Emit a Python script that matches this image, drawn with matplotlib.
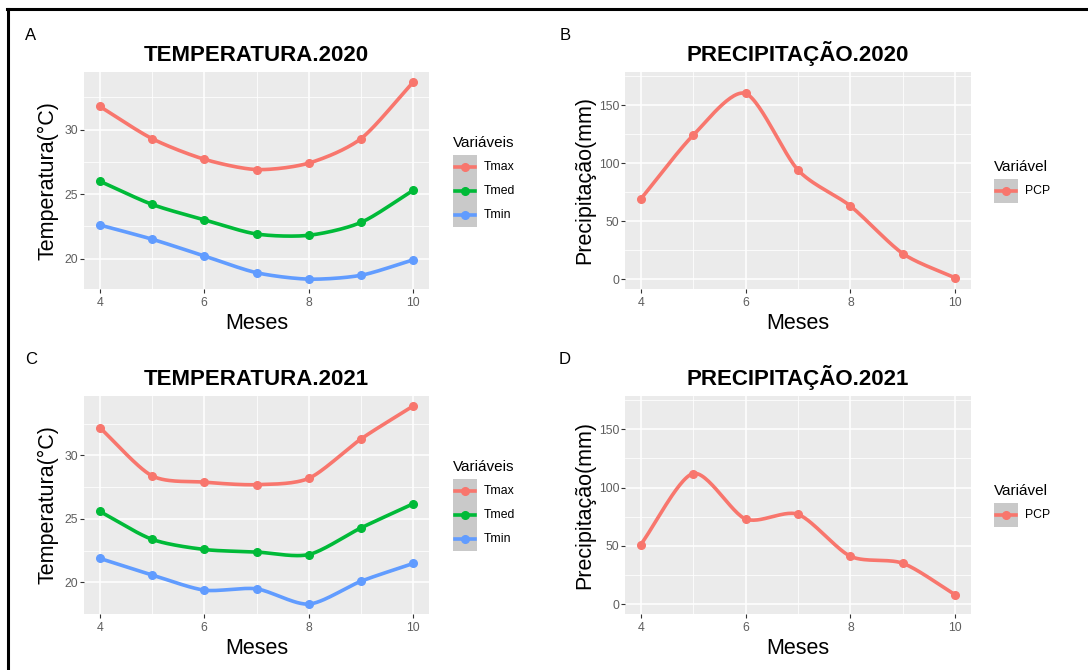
import matplotlib
matplotlib.use("Agg")
import matplotlib.pyplot as plt
from matplotlib.lines import Line2D
from matplotlib.patches import Rectangle
import numpy as np

plt.rcParams["font.family"] = ["Liberation Sans", "DejaVu Sans"]

# monthly data (months 4..10)
meses = [4, 5, 6, 7, 8, 9, 10]

tmax_2020 = [31.8, 29.3, 27.7, 26.9, 27.4, 29.3, 33.7]
tmed_2020 = [26.0, 24.2, 23.0, 21.9, 21.8, 22.8, 25.3]
tmin_2020 = [22.6, 21.5, 20.2, 18.9, 18.4, 18.7, 19.9]

tmax_2021 = [32.2, 28.4, 27.9, 27.7, 28.2, 31.3, 33.9]
tmed_2021 = [25.6, 23.4, 22.6, 22.4, 22.2, 24.3, 26.2]
tmin_2021 = [21.9, 20.6, 19.4, 19.5, 18.3, 20.1, 21.5]

pcp_2020 = [69, 124, 160, 94, 63, 22, 1]
pcp_2021 = [51, 112, 73, 77, 41, 35, 8]

temp_names = ["Tmax", "Tmed", "Tmin"]
temp_colors = ["#F8766D", "#00BA38", "#619CFF"]
pcp_color = "#F8766D"

W, H = 1088, 670
fig = plt.figure(figsize=(W / 100, H / 100), dpi=100)


def px_axes(x0, y0, x1, y1):
    return fig.add_axes([x0 / W, 1 - y1 / H, (x1 - x0) / W, (y1 - y0) / H])


def spline(x, y, s=0.4, n=30):
    # cardinal spline through the points, like geom_xspline
    p = np.column_stack([x, y]).astype(float)
    p = np.vstack([2 * p[0] - p[1], p, 2 * p[-1] - p[-2]])
    out = []
    t = np.linspace(0, 1, n)[:, None]
    h00 = 2 * t**3 - 3 * t**2 + 1
    h10 = t**3 - 2 * t**2 + t
    h01 = -2 * t**3 + 3 * t**2
    h11 = t**3 - t**2
    for i in range(1, len(p) - 2):
        m1 = s * (p[i + 1] - p[i - 1])
        m2 = s * (p[i + 2] - p[i])
        seg = h00 * p[i] + h10 * m1 + h01 * p[i + 1] + h11 * m2
        out.append(seg if i == 1 else seg[1:])
    out = np.vstack(out)
    return out[:, 0], out[:, 1]


def style(ax, title, ylabel, major_y, minor_y, box, ylab_off):
    x0, y0, x1, y1 = box
    ax.set_facecolor("#EBEBEB")
    for sp in ax.spines.values():
        sp.set_visible(False)
    ax.set_xlim(3.7, 10.3)
    ax.set_xticks([4, 6, 8, 10])
    ax.set_xticks([5, 7, 9], minor=True)
    ax.set_yticks(major_y)
    ax.set_yticks(minor_y, minor=True)
    ax.grid(which="major", color="white", linewidth=1.1)
    ax.grid(which="minor", color="white", linewidth=0.55)
    ax.set_axisbelow(True)
    ax.tick_params(which="major", length=3, width=0.8, color="#333333",
                   labelcolor="#5E5E5E", labelsize=8.8)
    ax.tick_params(axis="x", pad=2.5)
    ax.tick_params(axis="y", pad=1.2)
    ax.tick_params(which="minor", length=0)
    ax.set_title(title, fontsize=16, fontweight="bold", pad=8)
    ax.set_xlabel("Meses", fontsize=15.5, va="center")
    ax.xaxis.set_label_coords(0.5, -34 / (y1 - y0))
    ax.set_ylabel(ylabel, fontsize=15.5, va="center")
    ax.yaxis.set_label_coords(-ylab_off / (x1 - x0), 0.5)


def legend(title, names, colors, x, ty, ky):
    fig.text(x / W, 1 - ty / H, title, fontsize=11, va="center", ha="left")
    fig.patches.append(Rectangle((x / W, 1 - (ky + 24 * len(names)) / H),
                                 24 / W, 24 * len(names) / H,
                                 transform=fig.transFigure,
                                 facecolor="#C9C9C9", edgecolor="none"))
    for i, (nm, c) in enumerate(zip(names, colors)):
        yc = 1 - (ky + 12 + 24 * i) / H
        fig.lines.append(Line2D([(x + 2) / W, (x + 22) / W], [yc, yc],
                                transform=fig.transFigure, color=c,
                                linewidth=2.6))
        fig.lines.append(Line2D([(x + 12) / W], [yc], transform=fig.transFigure,
                                color=c, marker="o", markersize=5.5))
        fig.text((x + 31) / W, yc, nm, fontsize=8.8, va="center", ha="left")


panels = [
    ("TEMPERATURA.2020", (84, 72, 429, 289), [tmax_2020, tmed_2020, tmin_2020], "A", (31, 35)),
    ("PRECIPITAÇÃO.2020", (625, 72, 971, 289), [pcp_2020], "B", (565, 35)),
    ("TEMPERATURA.2021", (84, 396, 429, 614), [tmax_2021, tmed_2021, tmin_2021], "C", (31, 360)),
    ("PRECIPITAÇÃO.2021", (625, 396, 971, 614), [pcp_2021], "D", (565, 360)),
]

for title, box, series, letter, lpos in panels:
    ax = px_axes(*box)
    temp = len(series) == 3
    colors = temp_colors if temp else [pcp_color]
    for vals, c in zip(series, colors):
        sx, sy = spline(meses, vals)
        ax.plot(sx, sy, color=c, linewidth=2.6, solid_capstyle="round")
        ax.plot(meses, vals, "o", color=c, markersize=5.5)
    top = box[1]
    if temp:
        style(ax, title, "Temperatura(°C)", [20, 25, 30],
              [17.5, 22.5, 27.5, 32.5], box, 36)
        lo = min(min(v) for v in series)
        hi = max(max(v) for v in series)
        pad = 0.05 * (hi - lo)
        ax.set_ylim(lo - pad, hi + pad)
        legend("Variáveis", temp_names, temp_colors, 453, top + 71, top + 83)
    else:
        style(ax, title, "Precipitação(mm)", [0, 50, 100, 150],
              [25, 75, 125, 175], box, 40)
        ax.set_ylim(-8.5, 178.5)
        legend("Variável", ["PCP"], [pcp_color], 994, top + 95, top + 107)
    fig.text(lpos[0] / W, 1 - lpos[1] / H, letter, fontsize=12,
             ha="center", va="center")

# frame lines along the top and left edge
fig.lines.append(Line2D([7 / W, 1], [1 - 9 / H, 1 - 9 / H],
                        transform=fig.transFigure, color="black", linewidth=2.2))
fig.lines.append(Line2D([8 / W, 8 / W], [0, 1 - 9 / H],
                        transform=fig.transFigure, color="black", linewidth=2.2))

fig.savefig("out.png", dpi=100)
